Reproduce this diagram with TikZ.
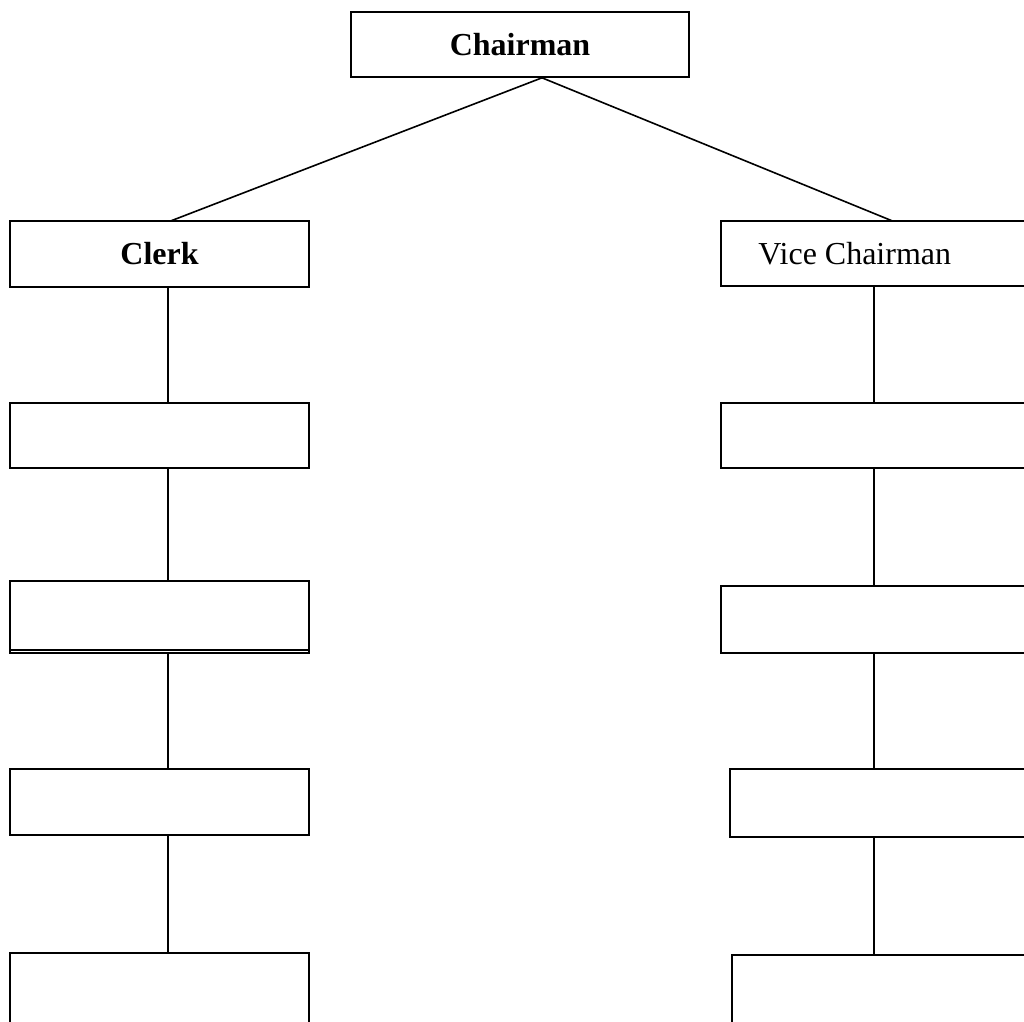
\documentclass[tikz,border=0pt]{standalone}
\usepackage{fontspec}
\setmainfont{Liberation Serif}
\usetikzlibrary{fit,calc}
\begin{document}
\begin{tikzpicture}[x=0.75pt,y=-0.75pt,
  box/.style={draw, line width=1.2pt, inner sep=0pt, rectangle},
  conn/.style={line width=1.2pt},
  lbl/.style={font=\fontsize{24}{28}\selectfont, inner sep=0pt},
  blbl/.style={font=\fontsize{24}{28}\selectfont\bfseries, inner sep=0pt}]
\useasboundingbox (0,0) rectangle (1024,1021);
\clip (0,0) rectangle (1024,1021);
% top
\node[box, fit={(351,12)(689,77)}, label={[blbl]center:Chairman}] (chair) {};
% left column
\node[box, fit={(10,221)(309,287)}, label={[blbl]center:Clerk}] (clerk) {};
\node[box, fit={(10,403)(309,468)}] (l2) {};
\node[box, fit={(10,581)(309,653)}] (l3) {};
\node[box, fit={(10,769)(309,835)}] (l4) {};
\node[box, fit={(10,953)(309,1040)}] (l5) {};
% right column
\node[box, fit={(721,221)(1040,286)}] (vice) {};
\node[lbl, anchor=west] (vicetext) at ([xshift=28.5pt]vice.west) {Vice Chairman};
\node[box, fit={(721,403)(1040,468)}] (r2) {};
\node[box, fit={(721,586)(1040,653)}] (r3) {};
\node[box, fit={(730,769)(1040,837)}] (r4) {};
\node[box, fit={(732,955)(1040,1040)}] (r5) {};
% double bottom line of l3
\draw[conn] ([yshift=3pt]l3.south west) -- ([yshift=3pt]l3.south east);
% connectors
\draw[conn] ([xshift=16.5pt]chair.south) -- ([xshift=7.9pt,yshift=-0.75pt]clerk.north);
\draw[conn] ([xshift=16.5pt]chair.south) -- ([yshift=-0.75pt]vice.north -| 893,0);
\coordinate (lx) at (168,0);
\coordinate (rx) at (874,0);
\draw[conn] (clerk.south -| lx) -- ([yshift=-1.5pt]l2.north -| lx);
\draw[conn] (l2.south -| lx) -- (l3.north -| lx);
\draw[conn] (l3.south -| lx) -- ([yshift=-1.5pt]l4.north -| lx);
\draw[conn] (l4.south -| lx) -- ([yshift=-1.5pt]l5.north -| lx);
\draw[conn] (vice.south -| rx) -- ([yshift=-1.5pt]r2.north -| rx);
\draw[conn] (r2.south -| rx) -- (r3.north -| rx);
\draw[conn] (r3.south -| rx) -- ([yshift=-1.5pt]r4.north -| rx);
\draw[conn] (r4.south -| rx) -- (r5.north -| rx);
\end{tikzpicture}
\end{document}
